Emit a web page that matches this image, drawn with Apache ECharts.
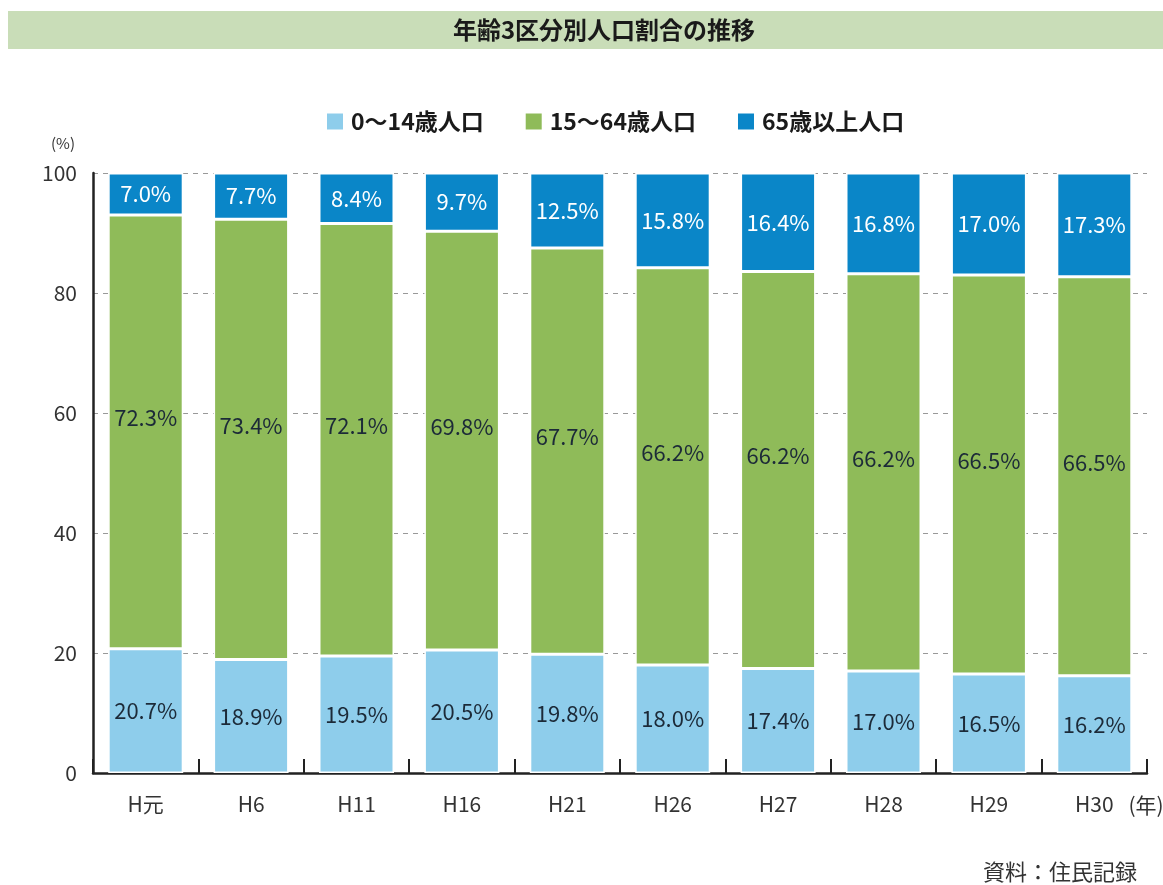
<!DOCTYPE html>
<html>
<head>
<meta charset="utf-8">
<script src="https://cdn.jsdelivr.net/npm/echarts@6/dist/echarts.min.js"></script>
<style>
  html, body { margin: 0; padding: 0; background: #fff; }
  #chart { width: 1163px; height: 885px; }
</style>
</head>
<body>
<div id="chart"></div>
<script>
// 年次
const categories = ['H元', 'H6', 'H11', 'H16', 'H21', 'H26', 'H27', 'H28', 'H29', 'H30']
// 年齢3区分の割合（%）
const young = [20.7, 18.9, 19.5, 20.5, 19.8, 18.0, 17.4, 17.0, 16.5, 16.2]
const working = [72.3, 73.4, 72.1, 69.8, 67.7, 66.2, 66.2, 66.2, 66.5, 66.5]
const elderly = [7.0, 7.7, 8.4, 9.7, 12.5, 15.8, 16.4, 16.8, 17.0, 17.3]
const seriesNames = ['0〜14歳人口', '15〜64歳人口', '65歳以上人口']
const yTicks = [0, 20, 40, 60, 80, 100]

const font = '"Noto Sans CJK JP", "Noto Sans", sans-serif'
const chart = echarts.init(document.getElementById('chart'))

const pct = (p) => p.value.toFixed(1) + '%'

const barSeries = (name, data, color, labelColor, offset) => ({
  name,
  type: 'bar',
  stack: 'total',
  data,
  barWidth: 75,
  itemStyle: { color, borderColor: '#fff', borderWidth: 1.5 },
  label: {
    show: true,
    position: 'inside',
    offset,
    formatter: pct,
    color: labelColor,
    fontSize: 22,
    fontFamily: font
  }
})

chart.setOption({
  animation: false,
  textStyle: { fontFamily: font },
  legend: {
    top: 105,
    left: 320,
    itemWidth: 18,
    itemHeight: 18,
    itemGap: 40,
    icon: 'rect',
    textStyle: { fontSize: 23, color: '#1a1a1a', fontWeight: 'bold', fontFamily: font, padding: [0, 0, 0, 2] },
    data: seriesNames
  },
  grid: { left: 93, right: 16, top: 173, bottom: 112 },
  xAxis: {
    type: 'category',
    data: categories,
    axisLine: { lineStyle: { color: '#222', width: 2.5 } },
    axisTick: { show: true, inside: true, length: 14, lineStyle: { color: '#222', width: 2 } },
    axisLabel: { fontSize: 21, color: '#333', margin: 21, fontFamily: font }
  },
  yAxis: {
    type: 'value',
    min: yTicks[0],
    max: yTicks[yTicks.length - 1],
    interval: 20,
    axisLine: { show: true, lineStyle: { color: '#222', width: 2.5 } },
    axisTick: { show: false },
    axisLabel: { fontSize: 21, color: '#333', margin: 16, fontFamily: font },
    splitLine: { lineStyle: { color: '#999', type: [5, 5], width: 1 } }
  },
  series: [
    barSeries(seriesNames[0], young, '#8ecdeb', '#1c2a38', [0, 0]),
    barSeries(seriesNames[1], working, '#8fbb59', '#1c2a38', [0, -14]),
    barSeries(seriesNames[2], elderly, '#0a86c8', '#ffffff', [0, 0])
  ],
  graphic: [
    {
      type: 'rect',
      shape: { x: 8, y: 11, width: 1155, height: 38 },
      style: { fill: '#c9ddb8' }
    },
    {
      type: 'text',
      x: 604,
      y: 30,
      style: {
        text: '年齢3区分別人口割合の推移',
        font: 'bold 24px ' + font,
        fill: '#1a1a1a',
        align: 'center',
        verticalAlign: 'middle'
      }
    },
    {
      type: 'text',
      x: 63,
      y: 143,
      style: { text: '(%)', font: '15px ' + font, fill: '#333', align: 'center', verticalAlign: 'middle' }
    },
    {
      type: 'text',
      x: 1146,
      y: 805,
      style: { text: '(年)', font: '21px ' + font, fill: '#333', align: 'center', verticalAlign: 'middle' }
    },
    {
      type: 'text',
      x: 1137,
      y: 872,
      style: { text: '資料：住民記録', font: '22px ' + font, fill: '#333', align: 'right', verticalAlign: 'middle' }
    }
  ]
})
</script>
</body>
</html>
